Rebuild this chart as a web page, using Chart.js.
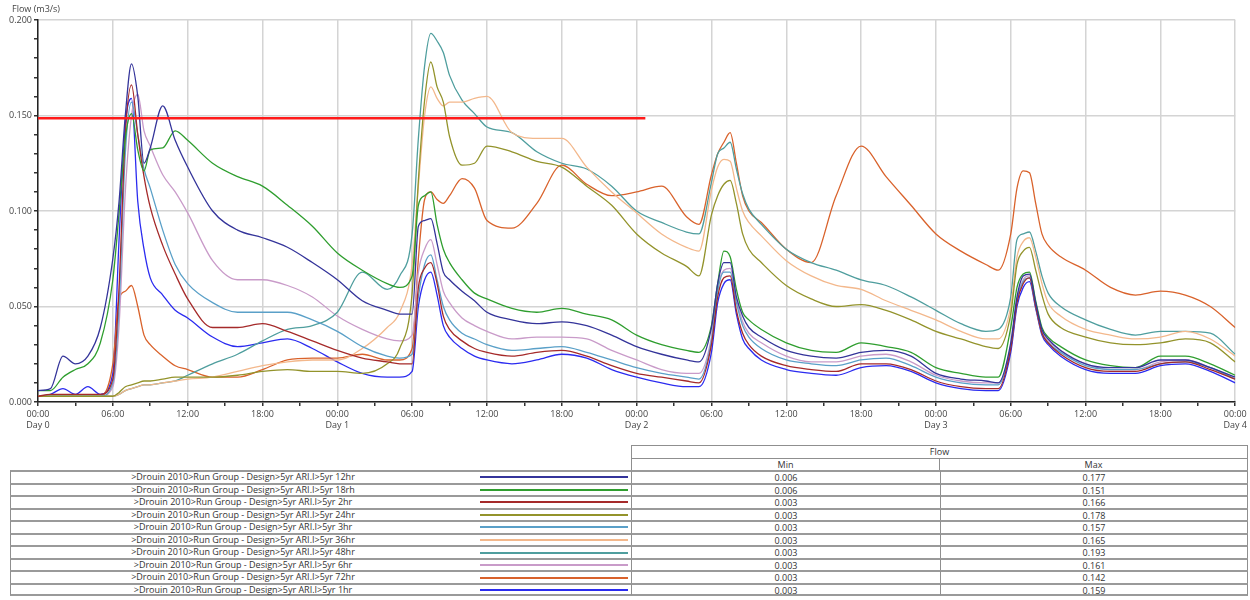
<!DOCTYPE html>
<html>
<head>
<meta charset="utf-8">
<script src="https://cdn.jsdelivr.net/npm/chart.js@4.4.1/dist/chart.umd.min.js"></script>
<style>
  body { margin: 0; background: #fff; font-family: "Open Sans", sans-serif; }
  #wrap { position: relative; width: 1250px; height: 600px; overflow: hidden; }
  #chart { position: absolute; left: 0; top: 0; }
  .cell { position: absolute; box-sizing: border-box; font-size: 9px; color: #333;
          text-align: center; white-space: nowrap; }
</style>
</head>
<body>
<div id="wrap">
  <canvas id="chart" width="1250" height="440"></canvas>
  <div id="table"></div>
</div>
<script>
// time axis in hours from Day 0 00:00
const hours = [0,1,2,3,4,5,6,6.5,7,7.5,8,8.5,9,10,11,12,14,16,18,20,22,24,26,28,29,
  30,30.5,31,31.5,32,32.5,33,34,35,36,38,40,42,44,46,48,50,52,
  53,54,54.5,55,55.5,56,56.5,57,58,60,62,64,66,68,70,72,74,
  76,77,78,78.5,79,79.5,80,80.5,81,82,84,86,88,90,92,94,96];

const flow12hr = [0.006,0.007,0.024,0.020,0.024,0.039,0.075,0.105,0.150,0.177,0.160,0.125,0.133,0.155,0.137,0.123,0.100,0.090,0.086,0.081,0.073,0.064,0.053,0.048,0.046,
  0.046,0.092,0.095,0.096,0.083,0.068,0.064,0.058,0.053,0.047,0.043,0.041,0.042,0.040,0.035,0.029,0.025,0.022,
  0.021,0.039,0.062,0.073,0.073,0.055,0.045,0.039,0.034,0.027,0.024,0.023,0.026,0.027,0.024,0.015,0.012,
  0.011,0.010,0.031,0.055,0.066,0.067,0.052,0.038,0.033,0.027,0.020,0.018,0.018,0.022,0.022,0.018,0.013];
const flow18hr = [0.006,0.006,0.013,0.017,0.020,0.031,0.064,0.099,0.138,0.151,0.132,0.121,0.132,0.133,0.142,0.137,0.125,0.118,0.113,0.103,0.092,0.078,0.069,0.062,0.060,
  0.066,0.103,0.108,0.110,0.093,0.080,0.073,0.064,0.057,0.054,0.049,0.047,0.049,0.046,0.043,0.035,0.030,0.027,
  0.026,0.040,0.062,0.079,0.076,0.059,0.047,0.043,0.038,0.031,0.027,0.026,0.031,0.029,0.026,0.018,0.015,
  0.013,0.013,0.039,0.060,0.067,0.068,0.053,0.039,0.034,0.029,0.022,0.019,0.018,0.024,0.024,0.020,0.014];
const flow2hr = [0.003,0.004,0.004,0.004,0.004,0.004,0.012,0.060,0.140,0.166,0.140,0.118,0.102,0.082,0.067,0.054,0.039,0.039,0.041,0.037,0.032,0.027,0.023,0.021,0.020,
  0.020,0.060,0.070,0.073,0.062,0.045,0.038,0.032,0.028,0.026,0.024,0.026,0.027,0.024,0.019,0.015,0.013,0.011,
  0.010,0.030,0.055,0.065,0.066,0.048,0.036,0.030,0.024,0.019,0.017,0.016,0.020,0.020,0.017,0.011,0.008,
  0.007,0.007,0.028,0.052,0.062,0.065,0.050,0.036,0.031,0.025,0.018,0.016,0.016,0.020,0.021,0.017,0.012];
const flow24hr = [0.003,0.003,0.003,0.003,0.003,0.003,0.003,0.005,0.008,0.009,0.010,0.011,0.011,0.012,0.013,0.013,0.013,0.014,0.016,0.017,0.016,0.016,0.015,0.020,0.028,
  0.057,0.116,0.158,0.178,0.165,0.157,0.139,0.124,0.125,0.134,0.131,0.126,0.123,0.113,0.103,0.088,0.078,0.071,
  0.066,0.098,0.108,0.114,0.116,0.104,0.088,0.080,0.073,0.061,0.054,0.050,0.051,0.048,0.043,0.037,0.033,
  0.029,0.028,0.046,0.072,0.079,0.081,0.069,0.056,0.046,0.039,0.034,0.031,0.030,0.031,0.033,0.031,0.021];
const flow3hr = [0.003,0.003,0.003,0.003,0.003,0.003,0.010,0.050,0.130,0.157,0.140,0.122,0.112,0.090,0.072,0.062,0.052,0.047,0.047,0.047,0.043,0.037,0.029,0.024,0.023,
  0.025,0.055,0.072,0.077,0.064,0.050,0.043,0.036,0.033,0.030,0.027,0.028,0.029,0.026,0.022,0.018,0.015,0.013,
  0.012,0.032,0.058,0.068,0.068,0.052,0.040,0.034,0.028,0.022,0.020,0.019,0.022,0.023,0.019,0.013,0.010,
  0.009,0.009,0.029,0.053,0.063,0.065,0.050,0.036,0.031,0.026,0.019,0.017,0.017,0.020,0.021,0.018,0.012];
const flow36hr = [0.003,0.003,0.003,0.003,0.003,0.003,0.003,0.004,0.006,0.007,0.008,0.009,0.009,0.010,0.011,0.012,0.013,0.016,0.019,0.021,0.022,0.022,0.028,0.039,0.047,
  0.072,0.113,0.150,0.165,0.159,0.155,0.157,0.157,0.159,0.160,0.141,0.138,0.138,0.123,0.110,0.099,0.088,0.081,
  0.079,0.111,0.123,0.127,0.126,0.112,0.100,0.094,0.087,0.074,0.066,0.061,0.059,0.053,0.048,0.043,0.037,
  0.033,0.033,0.050,0.076,0.084,0.086,0.076,0.062,0.052,0.045,0.038,0.035,0.033,0.034,0.037,0.033,0.024];
const flow48hr = [0.003,0.003,0.003,0.003,0.003,0.003,0.003,0.004,0.006,0.007,0.008,0.009,0.009,0.010,0.011,0.014,0.020,0.025,0.032,0.038,0.040,0.047,0.068,0.059,0.066,
  0.088,0.138,0.176,0.193,0.189,0.183,0.171,0.158,0.151,0.144,0.141,0.131,0.125,0.122,0.113,0.100,0.094,0.089,
  0.088,0.115,0.130,0.133,0.136,0.122,0.109,0.101,0.093,0.080,0.073,0.069,0.064,0.061,0.055,0.048,0.041,
  0.037,0.038,0.055,0.085,0.088,0.089,0.079,0.066,0.057,0.050,0.043,0.038,0.035,0.037,0.037,0.036,0.025];
const flow6hr = [0.003,0.003,0.003,0.003,0.003,0.003,0.008,0.040,0.110,0.150,0.161,0.142,0.134,0.119,0.110,0.099,0.074,0.064,0.064,0.061,0.055,0.045,0.038,0.033,0.032,
  0.035,0.068,0.080,0.085,0.072,0.058,0.052,0.044,0.040,0.037,0.033,0.034,0.034,0.033,0.027,0.022,0.017,0.015,
  0.015,0.034,0.060,0.069,0.070,0.054,0.042,0.036,0.031,0.024,0.021,0.021,0.024,0.025,0.021,0.014,0.011,
  0.010,0.010,0.030,0.054,0.064,0.066,0.051,0.037,0.032,0.027,0.020,0.017,0.017,0.021,0.022,0.018,0.012];
const flow72hr = [0.003,0.003,0.003,0.003,0.003,0.003,0.020,0.054,0.058,0.061,0.050,0.035,0.030,0.024,0.019,0.017,0.013,0.013,0.017,0.022,0.023,0.023,0.025,0.022,0.022,
  0.028,0.075,0.106,0.110,0.106,0.104,0.108,0.117,0.112,0.095,0.091,0.104,0.124,0.114,0.108,0.110,0.113,0.097,
  0.093,0.119,0.130,0.136,0.141,0.125,0.108,0.100,0.094,0.080,0.073,0.108,0.134,0.118,0.103,0.088,0.079,
  0.072,0.069,0.088,0.112,0.121,0.120,0.104,0.088,0.082,0.076,0.069,0.060,0.056,0.058,0.056,0.050,0.039];
const flow1hr = [0.003,0.004,0.007,0.004,0.008,0.004,0.015,0.085,0.145,0.159,0.105,0.080,0.065,0.056,0.048,0.044,0.034,0.029,0.031,0.033,0.028,0.021,0.015,0.013,0.013,
  0.016,0.050,0.064,0.068,0.056,0.040,0.034,0.028,0.024,0.022,0.020,0.022,0.025,0.023,0.017,0.013,0.010,0.008,
  0.008,0.026,0.052,0.062,0.064,0.046,0.033,0.028,0.022,0.017,0.015,0.014,0.018,0.019,0.016,0.010,0.007,
  0.006,0.006,0.026,0.050,0.060,0.063,0.049,0.035,0.030,0.024,0.017,0.015,0.015,0.019,0.020,0.016,0.010];

// threshold line
const thresholdHours = [0, 48.7];
const thresholdFlow = [0.1486, 0.1486];

const seriesNames = [
  ">Drouin 2010>Run Group - Design>5yr ARI.I>5yr 12hr",
  ">Drouin 2010>Run Group - Design>5yr ARI.I>5yr 18rh",
  ">Drouin 2010>Run Group - Design>5yr ARI.I>5yr 2hr",
  ">Drouin 2010>Run Group - Design>5yr ARI.I>5yr 24hr",
  ">Drouin 2010>Run Group - Design>5yr ARI.I>5yr 3hr",
  ">Drouin 2010>Run Group - Design>5yr ARI.I>5yr 36hr",
  ">Drouin 2010>Run Group - Design>5yr ARI.I>5yr 48hr",
  ">Drouin 2010>Run Group - Design>5yr ARI.I>5yr 6hr",
  ">Drouin 2010>Run Group - Design>5yr ARI.I>5yr 72hr",
  ">Drouin 2010>Run Group - Design>5yr ARI.I>5yr 1hr"
];
const seriesValues = [flow12hr, flow18hr, flow2hr, flow24hr, flow3hr, flow36hr, flow48hr, flow6hr, flow72hr, flow1hr];
const tableMin = ["0.006","0.006","0.003","0.003","0.003","0.003","0.003","0.003","0.003","0.003"];
const tableMax = ["0.177","0.151","0.166","0.178","0.157","0.165","0.193","0.161","0.142","0.159"];

const colors = ["#34349a", "#2f9e2f", "#a52a2a", "#93932b", "#5aa0c8",
                "#f3b88c", "#4f9e9e", "#c99bc9", "#d9622b", "#2b2bf0"];

const toPoints = (xs, ys) => xs.map((x, i) => ({x: x, y: ys[i]}));

const datasets = [{
  data: toPoints(thresholdHours, thresholdFlow),
  borderColor: "#ff1a1a", borderWidth: 2.5, pointRadius: 0, tension: 0
}];
seriesValues.forEach((vals, i) => {
  datasets.push({
    data: toPoints(hours, vals),
    borderColor: colors[i], borderWidth: 1.3, pointRadius: 0,
    cubicInterpolationMode: "monotone"
  });
});

const font = {family: "'Open Sans', sans-serif", size: 9};

const axisTitle = {
  id: "axisTitle",
  afterDraw(chart) {
    const c = chart.ctx;
    c.save();
    c.font = "9px 'Open Sans', sans-serif";
    c.fillStyle = "#444";
    c.textBaseline = "middle";
    c.fillText("Flow (m3/s)", 12, 9);
    c.restore();
  }
};

new Chart(document.getElementById("chart"), {
  type: "line",
  data: {datasets: datasets},
  plugins: [axisTitle],
  options: {
    responsive: false,
    animation: false,
    layout: {padding: {top: 20, right: 14, bottom: 0, left: 0}},
    plugins: {legend: {display: false}, tooltip: {enabled: false}},
    scales: {
      x: {
        type: "linear", min: 0, max: 96,
        afterFit: s => { s.height = 38; },
        ticks: {
          stepSize: 3, maxTicksLimit: 100, autoSkip: false, maxRotation: 0,
          font: font, color: "#444", padding: 3,
          callback: v => {
            if (v % 6 !== 0) return "";
            const hh = v % 24;
            const lab = (hh < 10 ? "0" : "") + hh + ":00";
            return hh === 0 ? [lab, "Day " + (v / 24)] : lab;
          }
        },
        grid: {
          color: c => (c.tick && c.tick.value % 6 === 0) ? "#d4d4d4" : "rgba(0,0,0,0)",
          lineWidth: 1.5, tickColor: "#333", tickLength: 4
        },
        border: {color: "#222", width: 1.5}
      },
      y: {
        min: 0, max: 0.2,
        afterFit: s => { s.width = 38; },
        ticks: {
          stepSize: 0.01, maxTicksLimit: 100, autoSkip: false,
          font: font, color: "#444", padding: 2,
          callback: v => (Math.round(v * 1000) % 50 === 0) ? v.toFixed(3) : ""
        },
        grid: {
          color: c => (c.tick && Math.round(c.tick.value * 1000) % 50 === 0) ? "#d4d4d4" : "rgba(0,0,0,0)",
          lineWidth: 1.5, tickColor: "#333", tickLength: 4
        },
        border: {color: "#222", width: 1.5}
      }
    }
  }
});

// table below the chart
const table = document.getElementById("table");
function cell(left, top, width, height, text, extra) {
  const d = document.createElement("div");
  d.className = "cell";
  d.style.left = left + "px";
  d.style.top = top + "px";
  d.style.width = width + "px";
  d.style.height = height + "px";
  d.style.lineHeight = (height - 2) + "px";
  if (text !== undefined) d.textContent = text;
  Object.assign(d.style, extra || {});
  table.appendChild(d);
  return d;
}
const line = "1px solid #8f8f8f";
cell(631, 445, 617, 13, "Flow", {border: line, borderBottom: "none"});
cell(631, 457.5, 309, 13, "Min", {border: line, borderBottom: "none"});
cell(940, 457.5, 308, 13, "Max", {border: line, borderLeft: "none", borderBottom: "none"});
const rowTop = 470, rowH = 12.55;
seriesNames.forEach((name, i) => {
  const top = rowTop + i * rowH;
  const bottom = i === seriesNames.length - 1 ? "2px solid #9a9a9a" : "none";
  cell(10, top, 621, rowH + 0.5, undefined, {borderTop: "2px solid #9a9a9a", borderLeft: line, borderBottom: bottom});
  cell(10, top, 466, rowH, name, {lineHeight: (rowH + 1) + "px"});
  cell(480, top + rowH / 2, 148, 2, undefined, {background: colors[i], top: (top + rowH / 2) + "px"});
  cell(631, top, 309, rowH + 0.5, tableMin[i], {borderTop: "2px solid #9a9a9a", borderLeft: line, borderBottom: bottom, lineHeight: (rowH - 1) + "px"});
  cell(940, top, 308, rowH + 0.5, tableMax[i], {borderTop: "2px solid #9a9a9a", borderLeft: line, borderRight: line, borderBottom: bottom, lineHeight: (rowH - 1) + "px"});
});
</script>
</body>
</html>
